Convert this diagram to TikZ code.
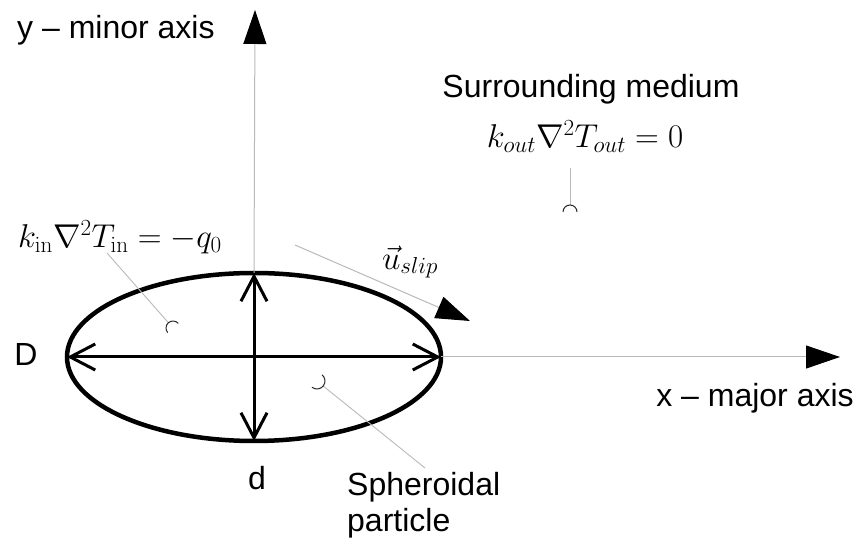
\RequirePackage{fix-cm}
\documentclass[tikz,border=0pt]{standalone}
\usepackage[no-math]{fontspec}
\setmainfont{Liberation Sans}
\usetikzlibrary{arrows.meta,shapes.geometric}

\begin{document}
\begin{tikzpicture}[x=1pt, y=1pt,
    label/.style={font=\fontsize{32}{36}\selectfont, inner sep=0pt},
    eqn/.style={font=\fontsize{33}{38}\selectfont, inner sep=0pt},
    particle/.style={ellipse, draw, line width=4.5pt, minimum width=374pt,
      minimum height=168pt, inner sep=0pt, outer sep=0pt},
    dim/.style={line width=3pt,
      {Straight Barb[length=25pt,width=26pt]}-{Straight Barb[length=25pt,width=26pt]}},
    axis/.style={draw=gray!55, line width=1pt,
      -{Triangle[length=34pt,width=23pt,color=black]}},
    leader/.style={draw=gray!55, line width=0.9pt},
    cup/.style={draw=black!85, line width=1pt}]
  \useasboundingbox (0,0) rectangle (860,549);

  \node[particle] (P) at (254,192) {};
  \coordinate (xtip) at (840,192);
  \coordinate (ytip) at (255,539);
  \draw[axis] (P.east) -- (xtip);
  \draw[axis] (P.north) -- (ytip);
  \draw[dim] (P.west) -- (P.east);
  \draw[dim] (P.north) -- (P.south);

  \node[label, anchor=west] (ylab) at (17,519) {y – minor axis};
  \node[label] (xlab) at (755,151) {x – major axis};
  \node[label] (Dlab) at (26,195) {D};
  \node[label] (dlab) at (257,71) {d};
  \node[label, align=left, anchor=west] (plab) at (347,44) {Spheroidal\\particle};
  \node[label] (mlab) at (591,460) {Surrounding medium};
  \node[eqn] (eqout) at (585,412) {$k_{out}\nabla^2T_{out}=0$};
  \node[eqn] (eqin) at (120,312) {$k_{\mathrm{in}}\nabla^2T_{\mathrm{in}}=-q_0$};
  \node[eqn] (slip) at (410,287) {$\vec{u}_{slip}$};

  \coordinate (slipA) at (295,304);
  \coordinate (slipB) at (470,228);
  \draw[axis] (slipA) -- (slipB);

  \coordinate (inA) at (107,296);
  \coordinate (inC) at (173,221);
  \draw[leader] (inC) ++(131:7) -- (inA);
  \draw[cup] (inC) ++(41:7) arc[start angle=41, end angle=221, radius=7];

  \coordinate (outA) at (570,381);
  \coordinate (outC) at (570,337);
  \draw[leader] (outC) ++(90:7) -- (outA);
  \draw[cup] (outC) ++(0:7) arc[start angle=0, end angle=180, radius=7];

  \coordinate (pA) at (425,81);
  \coordinate (pC) at (317,168);
  \draw[leader] (pC) ++(-39:8) -- (pA);
  \draw[cup] (pC) ++(-129:8) arc[start angle=-129, end angle=51, radius=8];
\end{tikzpicture}
\end{document}
